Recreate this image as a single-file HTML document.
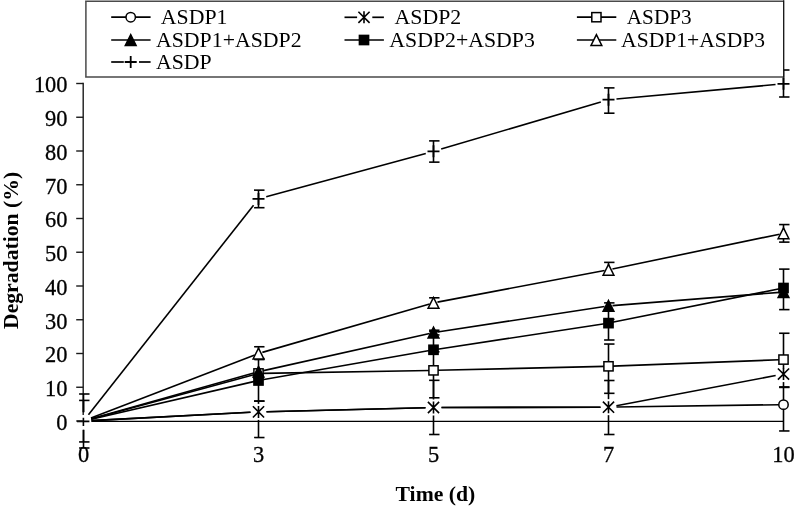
<!DOCTYPE html>
<html><head><meta charset="utf-8"><style>
html,body{margin:0;padding:0;background:#fff;width:797px;height:506px;overflow:hidden}
svg{display:block;will-change:transform}
text{font-family:"Liberation Serif",serif;fill:#000}
.tk{font-size:22.4px;stroke:#000;stroke-width:0.3px}
.lg{font-size:21.8px}
.ttl{font-size:21.7px;font-weight:bold}
</style></head><body>
<svg width="797" height="506" viewBox="0 0 797 506">
<line x1="91.5" y1="421.4" x2="783.5" y2="421.4" stroke="#000" stroke-width="1.2"/>
<line x1="83.2" y1="82.8" x2="83.2" y2="414.9" stroke="#1a1a1a" stroke-width="1.4"/>
<path d="M83.4,417.7V426M77,421.4H89.4" stroke="#000" stroke-width="1.6" fill="none"/>
<line x1="76.2" y1="421.00" x2="83.2" y2="421.00" stroke="#1a1a1a" stroke-width="1.4"/>
<text x="67.5" y="429.90" text-anchor="end" class="tk">0</text>
<line x1="76.2" y1="387.25" x2="83.2" y2="387.25" stroke="#1a1a1a" stroke-width="1.4"/>
<text x="67.5" y="396.15" text-anchor="end" class="tk">10</text>
<line x1="76.2" y1="353.50" x2="83.2" y2="353.50" stroke="#1a1a1a" stroke-width="1.4"/>
<text x="67.5" y="362.40" text-anchor="end" class="tk">20</text>
<line x1="76.2" y1="319.75" x2="83.2" y2="319.75" stroke="#1a1a1a" stroke-width="1.4"/>
<text x="67.5" y="328.65" text-anchor="end" class="tk">30</text>
<line x1="76.2" y1="286.00" x2="83.2" y2="286.00" stroke="#1a1a1a" stroke-width="1.4"/>
<text x="67.5" y="294.90" text-anchor="end" class="tk">40</text>
<line x1="76.2" y1="252.25" x2="83.2" y2="252.25" stroke="#1a1a1a" stroke-width="1.4"/>
<text x="67.5" y="261.15" text-anchor="end" class="tk">50</text>
<line x1="76.2" y1="218.50" x2="83.2" y2="218.50" stroke="#1a1a1a" stroke-width="1.4"/>
<text x="67.5" y="227.40" text-anchor="end" class="tk">60</text>
<line x1="76.2" y1="184.75" x2="83.2" y2="184.75" stroke="#1a1a1a" stroke-width="1.4"/>
<text x="67.5" y="193.65" text-anchor="end" class="tk">70</text>
<line x1="76.2" y1="151.00" x2="83.2" y2="151.00" stroke="#1a1a1a" stroke-width="1.4"/>
<text x="67.5" y="159.90" text-anchor="end" class="tk">80</text>
<line x1="76.2" y1="117.25" x2="83.2" y2="117.25" stroke="#1a1a1a" stroke-width="1.4"/>
<text x="67.5" y="126.15" text-anchor="end" class="tk">90</text>
<line x1="76.2" y1="83.50" x2="83.2" y2="83.50" stroke="#1a1a1a" stroke-width="1.4"/>
<text x="67.5" y="92.40" text-anchor="end" class="tk">100</text>
<text x="83.50" y="462.4" text-anchor="middle" class="tk">0</text>
<text x="258.50" y="462.4" text-anchor="middle" class="tk">3</text>
<text x="433.50" y="462.4" text-anchor="middle" class="tk">5</text>
<text x="608.50" y="462.4" text-anchor="middle" class="tk">7</text>
<text x="783.50" y="462.4" text-anchor="middle" class="tk">10</text>
<line x1="83.5" y1="412.20" x2="83.5" y2="394.00" stroke="#000" stroke-width="1.6"/>
<line x1="79.10" y1="394.00" x2="89.50" y2="394.00" stroke="#000" stroke-width="1.6"/>
<line x1="83.5" y1="429.80" x2="83.5" y2="448.00" stroke="#000" stroke-width="1.6"/>
<line x1="79.10" y1="448.00" x2="89.50" y2="448.00" stroke="#000" stroke-width="1.6"/>
<line x1="83.5" y1="412.20" x2="83.5" y2="400.41" stroke="#000" stroke-width="1.6"/>
<line x1="79.10" y1="400.41" x2="89.50" y2="400.41" stroke="#000" stroke-width="1.6"/>
<line x1="83.5" y1="429.80" x2="83.5" y2="441.93" stroke="#000" stroke-width="1.6"/>
<line x1="79.10" y1="441.93" x2="89.50" y2="441.93" stroke="#000" stroke-width="1.6"/>
<line x1="783.5" y1="400.63" x2="783.5" y2="387.42" stroke="#000" stroke-width="1.6"/>
<line x1="779.10" y1="387.42" x2="789.50" y2="387.42" stroke="#000" stroke-width="1.6"/>
<line x1="783.5" y1="408.63" x2="783.5" y2="430.96" stroke="#000" stroke-width="1.6"/>
<line x1="779.10" y1="430.96" x2="789.50" y2="430.96" stroke="#000" stroke-width="1.6"/>
<line x1="258.5" y1="403.89" x2="258.5" y2="401.09" stroke="#000" stroke-width="1.6"/>
<line x1="254.10" y1="401.09" x2="264.50" y2="401.09" stroke="#000" stroke-width="1.6"/>
<line x1="258.5" y1="419.89" x2="258.5" y2="437.54" stroke="#000" stroke-width="1.6"/>
<line x1="254.10" y1="437.54" x2="264.50" y2="437.54" stroke="#000" stroke-width="1.6"/>
<line x1="433.5" y1="399.50" x2="433.5" y2="380.33" stroke="#000" stroke-width="1.6"/>
<line x1="429.10" y1="380.33" x2="439.50" y2="380.33" stroke="#000" stroke-width="1.6"/>
<line x1="433.5" y1="415.50" x2="433.5" y2="434.50" stroke="#000" stroke-width="1.6"/>
<line x1="429.10" y1="434.50" x2="439.50" y2="434.50" stroke="#000" stroke-width="1.6"/>
<line x1="608.5" y1="399.16" x2="608.5" y2="380.50" stroke="#000" stroke-width="1.6"/>
<line x1="604.10" y1="380.50" x2="614.50" y2="380.50" stroke="#000" stroke-width="1.6"/>
<line x1="608.5" y1="415.16" x2="608.5" y2="434.50" stroke="#000" stroke-width="1.6"/>
<line x1="604.10" y1="434.50" x2="614.50" y2="434.50" stroke="#000" stroke-width="1.6"/>
<line x1="783.5" y1="382.09" x2="783.5" y2="386.91" stroke="#000" stroke-width="1.6"/>
<line x1="779.10" y1="386.91" x2="789.50" y2="386.91" stroke="#000" stroke-width="1.6"/>
<line x1="258.5" y1="377.41" x2="258.5" y2="401.09" stroke="#000" stroke-width="1.6"/>
<line x1="254.10" y1="401.09" x2="264.50" y2="401.09" stroke="#000" stroke-width="1.6"/>
<line x1="433.5" y1="366.38" x2="433.5" y2="351.81" stroke="#000" stroke-width="1.6"/>
<line x1="429.10" y1="351.81" x2="439.50" y2="351.81" stroke="#000" stroke-width="1.6"/>
<line x1="433.5" y1="374.38" x2="433.5" y2="397.81" stroke="#000" stroke-width="1.6"/>
<line x1="429.10" y1="397.81" x2="439.50" y2="397.81" stroke="#000" stroke-width="1.6"/>
<line x1="608.5" y1="362.32" x2="608.5" y2="344.05" stroke="#000" stroke-width="1.6"/>
<line x1="604.10" y1="344.05" x2="614.50" y2="344.05" stroke="#000" stroke-width="1.6"/>
<line x1="608.5" y1="370.32" x2="608.5" y2="393.32" stroke="#000" stroke-width="1.6"/>
<line x1="604.10" y1="393.32" x2="614.50" y2="393.32" stroke="#000" stroke-width="1.6"/>
<line x1="783.5" y1="355.57" x2="783.5" y2="333.25" stroke="#000" stroke-width="1.6"/>
<line x1="779.10" y1="333.25" x2="789.50" y2="333.25" stroke="#000" stroke-width="1.6"/>
<line x1="258.5" y1="367.73" x2="258.5" y2="359.57" stroke="#000" stroke-width="1.6"/>
<line x1="254.10" y1="359.57" x2="264.50" y2="359.57" stroke="#000" stroke-width="1.6"/>
<line x1="433.5" y1="328.57" x2="433.5" y2="330.21" stroke="#000" stroke-width="1.6"/>
<line x1="429.10" y1="330.21" x2="439.50" y2="330.21" stroke="#000" stroke-width="1.6"/>
<line x1="433.5" y1="336.57" x2="433.5" y2="334.94" stroke="#000" stroke-width="1.6"/>
<line x1="429.10" y1="334.94" x2="439.50" y2="334.94" stroke="#000" stroke-width="1.6"/>
<line x1="608.5" y1="301.91" x2="608.5" y2="302.88" stroke="#000" stroke-width="1.6"/>
<line x1="604.10" y1="302.88" x2="614.50" y2="302.88" stroke="#000" stroke-width="1.6"/>
<line x1="608.5" y1="309.91" x2="608.5" y2="319.41" stroke="#000" stroke-width="1.6"/>
<line x1="604.10" y1="319.41" x2="614.50" y2="319.41" stroke="#000" stroke-width="1.6"/>
<line x1="783.5" y1="296.07" x2="783.5" y2="309.62" stroke="#000" stroke-width="1.6"/>
<line x1="779.10" y1="309.62" x2="789.50" y2="309.62" stroke="#000" stroke-width="1.6"/>
<line x1="433.5" y1="345.79" x2="433.5" y2="331.56" stroke="#000" stroke-width="1.6"/>
<line x1="429.10" y1="331.56" x2="439.50" y2="331.56" stroke="#000" stroke-width="1.6"/>
<line x1="608.5" y1="327.12" x2="608.5" y2="340.00" stroke="#000" stroke-width="1.6"/>
<line x1="604.10" y1="340.00" x2="614.50" y2="340.00" stroke="#000" stroke-width="1.6"/>
<line x1="783.5" y1="284.02" x2="783.5" y2="269.12" stroke="#000" stroke-width="1.6"/>
<line x1="779.10" y1="269.12" x2="789.50" y2="269.12" stroke="#000" stroke-width="1.6"/>
<line x1="258.5" y1="349.50" x2="258.5" y2="346.75" stroke="#000" stroke-width="1.6"/>
<line x1="254.10" y1="346.75" x2="264.50" y2="346.75" stroke="#000" stroke-width="1.6"/>
<line x1="258.5" y1="357.50" x2="258.5" y2="358.56" stroke="#000" stroke-width="1.6"/>
<line x1="254.10" y1="358.56" x2="264.50" y2="358.56" stroke="#000" stroke-width="1.6"/>
<line x1="433.5" y1="298.88" x2="433.5" y2="297.81" stroke="#000" stroke-width="1.6"/>
<line x1="429.10" y1="297.81" x2="439.50" y2="297.81" stroke="#000" stroke-width="1.6"/>
<line x1="608.5" y1="265.80" x2="608.5" y2="262.38" stroke="#000" stroke-width="1.6"/>
<line x1="604.10" y1="262.38" x2="614.50" y2="262.38" stroke="#000" stroke-width="1.6"/>
<line x1="783.5" y1="229.35" x2="783.5" y2="224.57" stroke="#000" stroke-width="1.6"/>
<line x1="779.10" y1="224.57" x2="789.50" y2="224.57" stroke="#000" stroke-width="1.6"/>
<line x1="783.5" y1="237.35" x2="783.5" y2="242.12" stroke="#000" stroke-width="1.6"/>
<line x1="779.10" y1="242.12" x2="789.50" y2="242.12" stroke="#000" stroke-width="1.6"/>
<line x1="258.5" y1="198.93" x2="258.5" y2="190.15" stroke="#000" stroke-width="1.6"/>
<line x1="254.10" y1="190.15" x2="264.50" y2="190.15" stroke="#000" stroke-width="1.6"/>
<line x1="258.5" y1="198.93" x2="258.5" y2="207.70" stroke="#000" stroke-width="1.6"/>
<line x1="254.10" y1="207.70" x2="264.50" y2="207.70" stroke="#000" stroke-width="1.6"/>
<line x1="433.5" y1="151.34" x2="433.5" y2="140.88" stroke="#000" stroke-width="1.6"/>
<line x1="429.10" y1="140.88" x2="439.50" y2="140.88" stroke="#000" stroke-width="1.6"/>
<line x1="433.5" y1="151.34" x2="433.5" y2="162.14" stroke="#000" stroke-width="1.6"/>
<line x1="429.10" y1="162.14" x2="439.50" y2="162.14" stroke="#000" stroke-width="1.6"/>
<line x1="608.5" y1="99.70" x2="608.5" y2="87.89" stroke="#000" stroke-width="1.6"/>
<line x1="604.10" y1="87.89" x2="614.50" y2="87.89" stroke="#000" stroke-width="1.6"/>
<line x1="608.5" y1="99.70" x2="608.5" y2="113.20" stroke="#000" stroke-width="1.6"/>
<line x1="604.10" y1="113.20" x2="614.50" y2="113.20" stroke="#000" stroke-width="1.6"/>
<line x1="783.5" y1="83.84" x2="783.5" y2="70.00" stroke="#000" stroke-width="1.6"/>
<line x1="779.10" y1="70.00" x2="789.50" y2="70.00" stroke="#000" stroke-width="1.6"/>
<line x1="783.5" y1="83.84" x2="783.5" y2="97.00" stroke="#000" stroke-width="1.6"/>
<line x1="779.10" y1="97.00" x2="789.50" y2="97.00" stroke="#000" stroke-width="1.6"/>
<line x1="783.5" y1="363" x2="783.5" y2="368.5" stroke="#000" stroke-width="1.6"/>
<line x1="91.49" y1="420.58" x2="250.51" y2="412.30" stroke="#000" stroke-width="1.6"/>
<line x1="266.50" y1="411.69" x2="425.50" y2="407.70" stroke="#000" stroke-width="1.6"/>
<line x1="441.50" y1="407.48" x2="600.50" y2="407.18" stroke="#000" stroke-width="1.6"/>
<line x1="616.50" y1="407.05" x2="779.50" y2="404.69" stroke="#000" stroke-width="1.6"/>
<line x1="91.49" y1="420.58" x2="250.51" y2="412.30" stroke="#000" stroke-width="1.6"/>
<line x1="266.50" y1="411.69" x2="425.50" y2="407.70" stroke="#000" stroke-width="1.6"/>
<line x1="441.50" y1="407.48" x2="600.50" y2="407.18" stroke="#000" stroke-width="1.6"/>
<line x1="616.36" y1="405.68" x2="775.64" y2="375.57" stroke="#000" stroke-width="1.6"/>
<line x1="91.22" y1="418.90" x2="254.64" y2="374.46" stroke="#000" stroke-width="1.6"/>
<line x1="262.50" y1="373.34" x2="429.50" y2="370.44" stroke="#000" stroke-width="1.6"/>
<line x1="437.50" y1="370.28" x2="604.50" y2="366.42" stroke="#000" stroke-width="1.6"/>
<line x1="612.50" y1="366.17" x2="779.50" y2="359.73" stroke="#000" stroke-width="1.6"/>
<line x1="91.20" y1="418.83" x2="254.65" y2="372.81" stroke="#000" stroke-width="1.6"/>
<line x1="262.40" y1="370.85" x2="429.60" y2="333.45" stroke="#000" stroke-width="1.6"/>
<line x1="437.45" y1="331.97" x2="604.55" y2="306.51" stroke="#000" stroke-width="1.6"/>
<line x1="612.49" y1="305.60" x2="779.51" y2="292.39" stroke="#000" stroke-width="1.6"/>
<line x1="91.29" y1="419.20" x2="254.60" y2="381.40" stroke="#000" stroke-width="1.6"/>
<line x1="262.44" y1="379.81" x2="429.56" y2="350.48" stroke="#000" stroke-width="1.6"/>
<line x1="437.45" y1="349.19" x2="604.55" y2="323.73" stroke="#000" stroke-width="1.6"/>
<line x1="612.42" y1="322.34" x2="779.58" y2="288.81" stroke="#000" stroke-width="1.6"/>
<line x1="90.96" y1="418.12" x2="254.77" y2="354.94" stroke="#000" stroke-width="1.6"/>
<line x1="262.34" y1="352.39" x2="429.66" y2="303.99" stroke="#000" stroke-width="1.6"/>
<line x1="437.43" y1="302.13" x2="604.57" y2="270.54" stroke="#000" stroke-width="1.6"/>
<line x1="612.42" y1="268.98" x2="779.58" y2="234.17" stroke="#000" stroke-width="1.6"/>
<line x1="88.45" y1="414.72" x2="253.55" y2="205.21" stroke="#000" stroke-width="1.6"/>
<line x1="266.22" y1="196.83" x2="425.78" y2="153.44" stroke="#000" stroke-width="1.6"/>
<line x1="441.17" y1="149.07" x2="600.83" y2="101.96" stroke="#000" stroke-width="1.6"/>
<line x1="616.47" y1="98.98" x2="775.53" y2="84.56" stroke="#000" stroke-width="1.6"/>
<circle cx="783.50" cy="404.63" r="4.7" fill="#fff" stroke="#000" stroke-width="1.5"/>
<path d="M252.90,406.29L264.10,417.49M264.10,406.29L252.90,417.49M258.50,405.89L258.50,417.89" stroke="#000" stroke-width="1.6" fill="none"/>
<path d="M427.90,401.90L439.10,413.10M439.10,401.90L427.90,413.10M433.50,401.50L433.50,413.50" stroke="#000" stroke-width="1.6" fill="none"/>
<path d="M602.90,401.56L614.10,412.76M614.10,401.56L602.90,412.76M608.50,401.16L608.50,413.16" stroke="#000" stroke-width="1.6" fill="none"/>
<path d="M777.90,368.49L789.10,379.69M789.10,368.49L777.90,379.69M783.50,368.09L783.50,380.09" stroke="#000" stroke-width="1.6" fill="none"/>
<rect x="253.90" y="368.81" width="9.20" height="9.20" fill="#fff" stroke="#000" stroke-width="1.5"/>
<rect x="428.90" y="365.77" width="9.20" height="9.20" fill="#fff" stroke="#000" stroke-width="1.5"/>
<rect x="603.90" y="361.72" width="9.20" height="9.20" fill="#fff" stroke="#000" stroke-width="1.5"/>
<rect x="778.90" y="354.97" width="9.20" height="9.20" fill="#fff" stroke="#000" stroke-width="1.5"/>
<polygon points="258.50,366.33 263.90,377.12 253.10,377.12" fill="#000" stroke="#000" stroke-width="1.5" stroke-linejoin="miter"/>
<polygon points="433.50,327.18 438.90,337.97 428.10,337.97" fill="#000" stroke="#000" stroke-width="1.5" stroke-linejoin="miter"/>
<polygon points="608.50,300.51 613.90,311.31 603.10,311.31" fill="#000" stroke="#000" stroke-width="1.5" stroke-linejoin="miter"/>
<polygon points="783.50,286.68 788.90,297.47 778.10,297.47" fill="#000" stroke="#000" stroke-width="1.5" stroke-linejoin="miter"/>
<rect x="253.90" y="375.90" width="9.20" height="9.20" fill="#000" stroke="#000" stroke-width="1.5"/>
<rect x="428.90" y="345.19" width="9.20" height="9.20" fill="#000" stroke="#000" stroke-width="1.5"/>
<rect x="603.90" y="318.52" width="9.20" height="9.20" fill="#000" stroke="#000" stroke-width="1.5"/>
<rect x="778.90" y="283.42" width="9.20" height="9.20" fill="#000" stroke="#000" stroke-width="1.5"/>
<polygon points="258.50,348.10 263.90,358.90 253.10,358.90" fill="#fff" stroke="#000" stroke-width="1.5" stroke-linejoin="miter"/>
<polygon points="433.50,297.48 438.90,308.27 428.10,308.27" fill="#fff" stroke="#000" stroke-width="1.5" stroke-linejoin="miter"/>
<polygon points="608.50,264.40 613.90,275.20 603.10,275.20" fill="#fff" stroke="#000" stroke-width="1.5" stroke-linejoin="miter"/>
<polygon points="783.50,227.95 788.90,238.75 778.10,238.75" fill="#fff" stroke="#000" stroke-width="1.5" stroke-linejoin="miter"/>
<path d="M252.50,198.93L264.50,198.93M258.50,192.93L258.50,204.93" stroke="#000" stroke-width="1.8" fill="none"/>
<path d="M427.50,151.34L439.50,151.34M433.50,145.34L433.50,157.34" stroke="#000" stroke-width="1.8" fill="none"/>
<path d="M602.50,99.70L614.50,99.70M608.50,93.70L608.50,105.70" stroke="#000" stroke-width="1.8" fill="none"/>
<path d="M777.50,83.84L789.50,83.84M783.50,77.84L783.50,89.84" stroke="#000" stroke-width="1.8" fill="none"/>
<rect x="85.8" y="1" width="697.9" height="76" fill="#fff" stroke="none"/>
<path d="M85.9,0.5V77.7M85.1,1.3H783.9M85.1,77H783.9" stroke="#4a4a4a" stroke-width="1.5" fill="none"/>
<path d="M783.7,0.3V77.6" stroke="#111" stroke-width="1.3" fill="none"/>
<line x1="111.2" y1="17.2" x2="150.6" y2="17.2" stroke="#000" stroke-width="1.7"/>
<circle cx="130.70" cy="17.20" r="4.7" fill="#fff" stroke="#000" stroke-width="1.5"/>
<text x="156.60" y="24.20" class="lg" xml:space="preserve"> ASDP1</text>
<line x1="344.5" y1="17.3" x2="357.1" y2="17.3" stroke="#000" stroke-width="1.7"/>
<line x1="372.3" y1="17.3" x2="383.9" y2="17.3" stroke="#000" stroke-width="1.7"/>
<path d="M358.40,11.70L369.60,22.90M369.60,11.70L358.40,22.90M364.00,11.30L364.00,23.30" stroke="#000" stroke-width="1.6" fill="none"/>
<text x="390.30" y="24.30" class="lg" xml:space="preserve"> ASDP2</text>
<line x1="576.9" y1="17.2" x2="616.3" y2="17.2" stroke="#000" stroke-width="1.7"/>
<rect x="591.80" y="12.60" width="9.20" height="9.20" fill="#fff" stroke="#000" stroke-width="1.5"/>
<text x="622.70" y="24.20" class="lg" xml:space="preserve" textLength="68.9" lengthAdjust="spacingAndGlyphs"> ASDP3</text>
<line x1="111.2" y1="40.0" x2="150.6" y2="40.0" stroke="#000" stroke-width="1.7"/>
<polygon points="130.70,34.60 136.10,45.40 125.30,45.40" fill="#000" stroke="#000" stroke-width="1.5" stroke-linejoin="miter"/>
<text x="156.00" y="47.00" class="lg" xml:space="preserve">ASDP1+ASDP2</text>
<line x1="344.5" y1="40.0" x2="383.9" y2="40.0" stroke="#000" stroke-width="1.7"/>
<rect x="359.40" y="35.40" width="9.20" height="9.20" fill="#000" stroke="#000" stroke-width="1.5"/>
<text x="389.30" y="47.00" class="lg" xml:space="preserve">ASDP2+ASDP3</text>
<line x1="576.9" y1="40.0" x2="616.3" y2="40.0" stroke="#000" stroke-width="1.7"/>
<polygon points="596.40,34.60 601.80,45.40 591.00,45.40" fill="#fff" stroke="#000" stroke-width="1.5" stroke-linejoin="miter"/>
<text x="621.10" y="47.00" class="lg" xml:space="preserve" textLength="144.0" lengthAdjust="spacingAndGlyphs">ASDP1+ASDP3</text>
<line x1="111.2" y1="62.0" x2="123.8" y2="62.0" stroke="#000" stroke-width="1.7"/>
<line x1="139.0" y1="62.0" x2="150.6" y2="62.0" stroke="#000" stroke-width="1.7"/>
<path d="M124.70,62.00L136.70,62.00M130.70,56.00L130.70,68.00" stroke="#000" stroke-width="1.8" fill="none"/>
<text x="156.00" y="69.00" class="lg" xml:space="preserve">ASDP</text>
<text x="435.4" y="501.3" text-anchor="middle" class="ttl">Time (d)</text>
<text transform="translate(18.0,250.4) rotate(-90)" x="0" y="0" text-anchor="middle" class="ttl">Degradation (%)</text>
</svg>
</body></html>
